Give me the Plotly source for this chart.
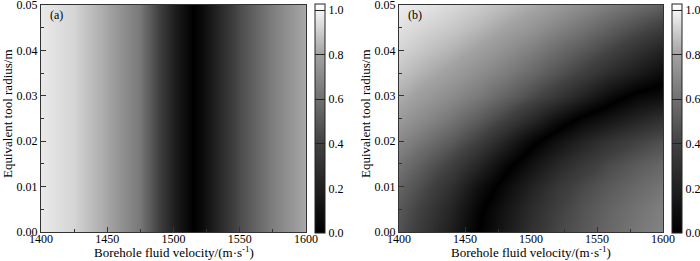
import plotly.graph_objects as go

# ---------------- data ----------------
# panel (a): value depends only on borehole fluid velocity
vel_a = [1400, 1425, 1450, 1475, 1490, 1500, 1510, 1515, 1520, 1530, 1550, 1575, 1600]
val_a = [0.97, 0.92, 0.81, 0.63, 0.38, 0.19, 0.06, 0.00, 0.05, 0.18, 0.45, 0.66, 0.82]
radius_a = [0.0, 0.05]

# panel (b): grid of values (rows = tool radius,
# columns = velocity).  Points below/right of the dark valley carry a minus
# sign so the valley is located between grid points; the shading shows |value|.
vel_b = [1400, 1420, 1440, 1460, 1480, 1500, 1520, 1540, 1560, 1580, 1600]
radius_b = [0.000, 0.005, 0.010, 0.015, 0.020, 0.025, 0.030, 0.035, 0.040, 0.045, 0.050]
val_b = [
    [0.47, 0.33, 0.18, 0.00, -0.15, -0.30, -0.42, -0.50, -0.57, -0.63, -0.68],
    [0.50, 0.37, 0.22, 0.03, -0.12, -0.27, -0.39, -0.48, -0.55, -0.61, -0.66],
    [0.55, 0.43, 0.29, 0.10, -0.06, -0.21, -0.34, -0.44, -0.51, -0.57, -0.62],
    [0.62, 0.51, 0.39, 0.24, 0.05, -0.10, -0.24, -0.35, -0.44, -0.51, -0.56],
    [0.70, 0.61, 0.51, 0.39, 0.22, 0.04, -0.10, -0.22, -0.32, -0.40, -0.46],
    [0.77, 0.70, 0.62, 0.52, 0.40, 0.26, 0.10, -0.04, -0.13, -0.22, -0.30],
    [0.83, 0.77, 0.71, 0.64, 0.55, 0.45, 0.34, 0.21, 0.07, -0.04, -0.08],
    [0.88, 0.83, 0.78, 0.72, 0.65, 0.57, 0.48, 0.38, 0.27, 0.17, 0.07],
    [0.92, 0.88, 0.84, 0.79, 0.73, 0.66, 0.58, 0.50, 0.41, 0.31, 0.21],
    [0.95, 0.92, 0.89, 0.85, 0.80, 0.75, 0.68, 0.61, 0.53, 0.45, 0.37],
    [0.98, 0.96, 0.93, 0.90, 0.86, 0.82, 0.77, 0.71, 0.65, 0.59, 0.53],
]

x_ticks = [1400, 1450, 1500, 1550, 1600]
y_ticks = [0.00, 0.01, 0.02, 0.03, 0.04, 0.05]
cb_ticks = [0.0, 0.2, 0.4, 0.6, 0.8, 1.0]

x_title = "Borehole fluid velocity/(m·s<sup>-1</sup>)"
y_title = "Equivalent tool radius/m"
panel_labels = ["(a)", "(b)"]

# ---------------- layout helpers ----------------
W, H = 700, 261
FONT = "Liberation Serif"
ZMAX = 1.027

def px_x(p):
    return p / W

def px_y(p):
    return 1 - p / H

gray_stops = [
    (0.0, "#000000"),
    (0.2 / ZMAX, "#202020"),
    (0.4 / ZMAX, "#414141"),
    (0.6 / ZMAX, "#707070"),
    (0.8 / ZMAX, "#a2a2a2"),
    (1.0 / ZMAX, "#f6f6f6"),
    (1.0, "#ffffff"),
]
gray = [[s, c] for s, c in gray_stops]
# mirrored scale for signed data (shade by magnitude)
gray_signed = [[0.5 - s / 2, c] for s, c in reversed(gray_stops)] + \
              [[0.5 + s / 2, c] for s, c in gray_stops[1:]]

panels = [
    dict(left=41, right=306, top=5, bottom=232, cb_left=314.5),
    dict(left=399, right=663, top=5, bottom=232, cb_left=671.5),
]

def colorbar(p):
    return dict(
        x=px_x(p["cb_left"]), xanchor="left", xpad=0,
        y=px_y(233), yanchor="bottom", ypad=0,
        len=229 / H, lenmode="fraction",
        thickness=10, thicknessmode="pixels",
        outlinewidth=1, outlinecolor="#222222",
        tickvals=cb_ticks, tickformat=".1f",
        ticks="inside", ticklen=10, tickwidth=1, tickcolor="#222222",
        tickfont=dict(family=FONT, size=12, color="black"),
    )

fig = go.Figure()

fig.add_trace(go.Heatmap(
    x=vel_a, y=radius_a, z=[val_a, val_a],
    zmin=0, zmax=ZMAX, colorscale=gray, zsmooth="best",
    colorbar=colorbar(panels[0]), xaxis="x", yaxis="y",
    hoverinfo="skip",
))
fig.add_trace(go.Heatmap(
    x=vel_b, y=radius_b, z=val_b,
    zmin=-ZMAX, zmax=ZMAX, colorscale=gray_signed, zsmooth="best",
    showscale=False, xaxis="x2", yaxis="y2",
    hoverinfo="skip",
))
# colour bar for panel (b) (0..1 magnitude scale)
fig.add_trace(go.Scatter(
    x=[None], y=[None], mode="markers", xaxis="x2", yaxis="y2",
    marker=dict(color=[0.0], cmin=0, cmax=ZMAX, colorscale=gray,
                showscale=True, colorbar=colorbar(panels[1])),
    hoverinfo="skip", showlegend=False,
))

def xaxis(p, anchor):
    return dict(
        domain=[px_x(p["left"]), px_x(p["right"])], anchor=anchor,
        range=[1400, 1600], tickvals=x_ticks,
        ticks="inside", ticklen=5, tickwidth=1, tickcolor="#333333",
        minor=dict(dtick=25, tick0=1400, ticks="inside", ticklen=3, tickcolor="#333333"),
        showline=True, linecolor="#333333", linewidth=1, mirror=True,
        showgrid=False, zeroline=False,
        ticklabelstandoff=-4, ticklabeloverflow="allow",
        tickfont=dict(family=FONT, size=12, color="black"),
    )

def yaxis(p, anchor):
    return dict(
        domain=[px_y(p["bottom"]), px_y(p["top"])], anchor=anchor,
        range=[0, 0.0500001], tickvals=y_ticks, tickformat=".2f",
        ticks="inside", ticklen=5, tickwidth=1, tickcolor="#333333",
        minor=dict(dtick=0.005, tick0=0, ticks="inside", ticklen=3, tickcolor="#333333"),
        showline=True, linecolor="#333333", linewidth=1, mirror=True,
        showgrid=False, zeroline=False,
        ticklabeloverflow="allow",
        tickfont=dict(family=FONT, size=12, color="black"),
    )

annotations = []
for i, p in enumerate(panels):
    cx = (p["left"] + p["right"]) / 2
    annotations.append(dict(
        text=x_title, xref="paper", yref="paper",
        x=px_x(cx), y=px_y(252), xanchor="center", yanchor="middle",
        showarrow=False, font=dict(family=FONT, size=13, color="black"),
    ))
    annotations.append(dict(
        text=y_title, xref="paper", yref="paper", textangle=-90,
        x=px_x(p["left"] - 34), y=px_y(114), xanchor="center", yanchor="middle",
        showarrow=False, font=dict(family=FONT, size=13, color="black"),
    ))
    annotations.append(dict(
        text=panel_labels[i], xref="paper", yref="paper",
        x=px_x(p["left"] + 7), y=px_y(15), xanchor="left", yanchor="middle",
        showarrow=False, font=dict(family=FONT, size=12, color="black"),
    ))

fig.update_layout(
    width=W, height=H,
    margin=dict(l=0, r=0, t=0, b=0, pad=0, autoexpand=False),
    paper_bgcolor="white", plot_bgcolor="white",
    xaxis=xaxis(panels[0], "y"), yaxis=yaxis(panels[0], "x"),
    xaxis2=xaxis(panels[1], "y2"), yaxis2=yaxis(panels[1], "x2"),
    annotations=annotations,
    showlegend=False,
)

fig.write_html("out.html", config={"displayModeBar": False},
               post_script="document.body.style.margin='0px';")
